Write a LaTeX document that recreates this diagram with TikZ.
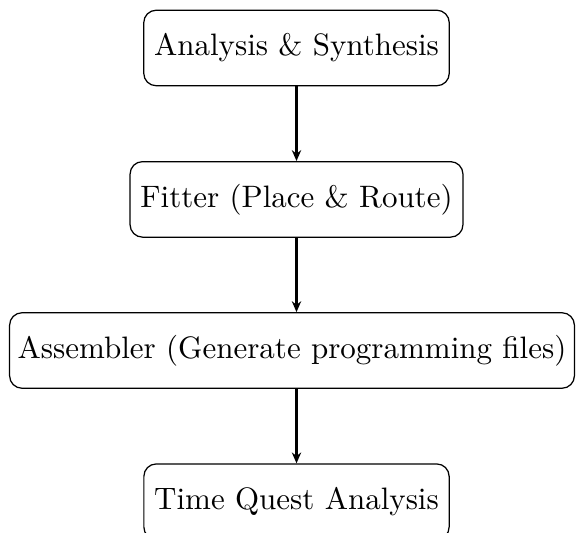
\documentclass[tikz,border=0pt]{standalone}
\usetikzlibrary{arrows.meta}
\begin{document}
\begin{tikzpicture}[x=0.3226pt,y=-0.3226pt,
  box/.style={draw, rounded corners=4pt, minimum height=24.36pt, inner xsep=3.33pt, line width=0.4pt},
  flow/.style={-{Stealth[length=3.5pt,width=3pt]}, thick}]
\useasboundingbox (0,0) rectangle (576,533);
\clip (0,0) rectangle (576,533);
\node[box] (a) at (296.5,48) {Analysis \& Synthesis};
\node[box] (f) at (296.5,199.4) {Fitter (Place \& Route)};
\node[box, inner xsep=2.6pt] (s) at (292,350.5) {Assembler (Generate programming files)};
\node[box] (t) at (296.5,501.7) {Time Quest Analysis};
\draw[flow] (a) -- (f);
\draw[flow] (f.south) -- (f.south |- s.north);
\draw[flow] (t.north |- s.south) -- (t.north);
\end{tikzpicture}
\end{document}
